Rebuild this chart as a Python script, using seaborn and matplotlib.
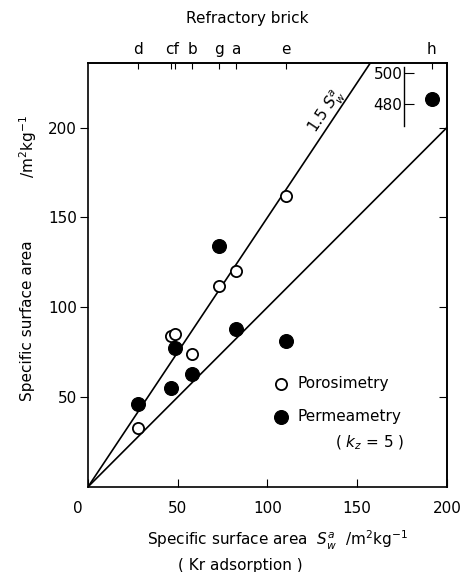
import numpy as np
import pandas as pd
import matplotlib
matplotlib.use('Agg')
import matplotlib.pyplot as plt
import matplotlib.transforms as mtransforms
import seaborn as sns

# Kr adsorption surface area of each refractory brick (x)
bricks = ['d', 'c', 'f', 'b', 'g', 'a', 'e', 'h']
brick_kr = [28, 46, 48.5, 58, 73, 82.5, 110.5, 191.5]

# porosimetry (open circles), no value for brick h
poro_bricks = ['d', 'c', 'f', 'b', 'g', 'a', 'e']
poro_area = [33, 84, 85, 74, 112, 120, 162]

perm_bricks = ['d', 'c', 'f', 'b', 'g', 'a', 'e']
perm_area = [46, 55, 77, 63, 134, 88, 81]
perm_h = 483

x_ticks = [0, 50, 100, 150, 200]
y_ticks = [50, 100, 150, 200]
inset_ticks = [480, 500]

kr = dict(zip(bricks, brick_kr))
poro = pd.DataFrame({'brick': poro_bricks, 'kr': [kr[b] for b in poro_bricks], 'area': poro_area})
perm = pd.DataFrame({'brick': perm_bricks, 'kr': [kr[b] for b in perm_bricks], 'area': perm_area})
perm_h_df = pd.DataFrame({'kr': [kr['h']], 'area': [perm_h]})

sns.set_style('ticks')
plt.rcParams['font.family'] = ['DejaVu Sans']
plt.rcParams['mathtext.fontset'] = 'dejavusans'
for k in ['text.color', 'axes.labelcolor', 'xtick.color', 'ytick.color', 'axes.edgecolor']:
    plt.rcParams[k] = 'black'

fig = plt.figure(figsize=(4.66, 5.72), dpi=100)
ax = fig.add_axes([0.189, 0.149, 0.770, 0.741])

# reference lines: S = S_w and S = 1.5 S_w
xs = np.array([0, 200])
lines = pd.DataFrame({'x': xs, 'y1': xs * 1.0, 'y15': xs * 1.5})
sns.lineplot(data=lines, x='x', y='y1', ax=ax, color='black', lw=1.2, zorder=1)
sns.lineplot(data=lines, x='x', y='y15', ax=ax, color='black', lw=1.2, zorder=1)

sns.scatterplot(data=perm, x='kr', y='area', ax=ax, color='black', s=100,
                edgecolor='black', zorder=3, label='Permeametry')
sns.scatterplot(data=poro, x='kr', y='area', ax=ax, color='white', s=65,
                edgecolor='black', linewidth=1.3, zorder=3, label='Porosimetry')

ax.set_xlim(0, 200)
ax.set_ylim(0, 236)
ax.set_xticks(x_ticks)
ax.set_yticks(y_ticks)
ax.set_xlabel('')
ax.set_ylabel('')
for s in ax.spines.values():
    s.set_linewidth(1.2)
    s.set_visible(True)
ax.tick_params(axis='x', direction='in', length=6, labelsize=11, pad=10)
ax.tick_params(axis='y', direction='out', length=6, labelsize=11, pad=2)

# right side: ticks pointing inward, no labels
right = ax.secondary_yaxis('right')
right.set_yticks(y_ticks)
right.set_yticklabels([])
right.tick_params(direction='in', length=6)
right.spines['right'].set_linewidth(1.2)

# shift the "0" label a bit to the left as in the figure
lbl0 = ax.get_xticklabels()[0]
lbl0.set_transform(lbl0.get_transform() + mtransforms.ScaledTranslation(-0.1, 0, fig.dpi_scale_trans))

# legend
handles, labels = ax.get_legend_handles_labels()
leg = ax.legend(handles[::-1], labels[::-1], loc='center left', bbox_to_anchor=(0.50, 0.204),
                frameon=False, fontsize=11, handlelength=1.0, handletextpad=0.55,
                labelspacing=1.2, borderaxespad=0, borderpad=0.4)
ax.text(0.688, 0.104, '( $k_z$ = 5 )', transform=ax.transAxes, fontsize=11, va='center', ha='left')

ax.text(0.666, 0.885, '1.5 $S_w^a$', transform=ax.transAxes, fontsize=11,
        rotation=56, ha='center', va='center')

# top axis: refractory bricks
top = ax.secondary_xaxis('top')
top.set_ticks(brick_kr)
top_labels = ['d', 'cf', '', 'b', 'g', 'a', 'e', 'h']
top.set_xticklabels(top_labels)
top.tick_params(direction='in', length=4, labelsize=11, pad=4)
top.spines['top'].set_linewidth(1.2)
for t, b in zip(top.get_xticklabels(), bricks):
    if b == 'c':
        t.set_transform(t.get_transform() + mtransforms.ScaledTranslation(0.01, 0, fig.dpi_scale_trans))
fig.text(0.53, 0.968, 'Refractory brick', fontsize=11, ha='center', va='center')

# broken scale for brick h
ins = ax.inset_axes([176, 201, 24, 32.5], transform=ax.transData)
ins.patch.set_alpha(0)
ins.set_xlim(176, 200)
ins.set_ylim(465.3, 504)
for k in ['top', 'right', 'bottom']:
    ins.spines[k].set_visible(False)
ins.spines['left'].set_linewidth(1.0)
ins.set_xticks([])
ins.set_yticks(inset_ticks)
ins.tick_params(axis='y', direction='in', length=7, labelsize=11, pad=1)
sns.scatterplot(data=perm_h_df, x='kr', y='area', ax=ins, color='black', s=100,
                edgecolor='black', clip_on=False, legend=False)
ins.set_xlabel('')
ins.set_ylabel('')

# axis labels
fig.text(0.595, 0.056, 'Specific surface area  $S_w^a$  /m$^2$kg$^{-1}$', fontsize=11, ha='center', va='center')
fig.text(0.515, 0.011, '( Kr adsorption )', fontsize=11, ha='center', va='center')
fig.text(0.06, 0.439, 'Specific surface area', fontsize=11, rotation=90, ha='center', va='center')
fig.text(0.06, 0.743, '/m$^2$kg$^{-1}$', fontsize=11, rotation=90, ha='center', va='center')

fig.savefig('out.png', dpi=100)
